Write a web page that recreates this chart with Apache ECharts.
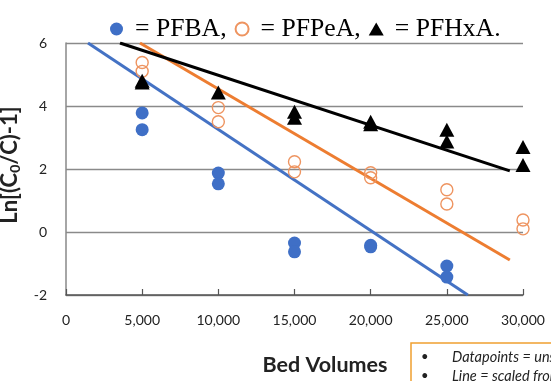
<!DOCTYPE html>
<html><head><meta charset="utf-8">
<script src="https://cdn.jsdelivr.net/npm/echarts@6/dist/echarts.min.js"></script>
<style>html,body{margin:0;padding:0;background:#fff}#c{width:551px;height:381px}</style>
</head><body><div id="c"></div>
<script>
// Data
const xTicks = [0, 5000, 10000, 15000, 20000, 25000, 30000];
const yTicks = [-2, 0, 2, 4, 6];
const pfbaX = [5000, 5000, 10000, 10000, 15000, 15000, 20000, 20000, 25000, 25000];
const pfbaY = [3.78, 3.25, 1.87, 1.53, -0.35, -0.63, -0.42, -0.47, -1.08, -1.43];
const pfpeaX = [5000, 5000, 10000, 10000, 15000, 15000, 20000, 20000, 25000, 25000, 30000, 30000];
const pfpeaY = [5.38, 5.10, 3.95, 3.50, 2.23, 1.91, 1.88, 1.72, 1.34, 0.89, 0.38, 0.10];
const pfhxaX = [5000, 5000, 10000, 15000, 15000, 20000, 20000, 25000, 25000, 30000, 30000];
const pfhxaY = [4.75, 4.80, 4.43, 3.82, 3.63, 3.50, 3.42, 3.25, 2.87, 2.70, 2.13];
// fitted (scaled) lines: start/end points
const pfbaLineX = [1444, 26378];
const pfbaLineY = [6.0, -2.0];
const pfpeaLineX = [4856, 29134];
const pfpeaLineY = [6.0, -0.89];
const pfhxaLineX = [3543, 29134];
const pfhxaLineY = [6.0, 1.94];

const zip = (xs, ys) => xs.map((x, i) => [x, ys[i]]);
const BLUE = '#4472C4', DOT = '#3F6FC6', ORANGE = '#ED7D31', ORANGE_LT = '#EE9460';
const FONT = 'Lato';

const chart = echarts.init(document.getElementById('c'));
chart.setOption({
  animation: false,
  backgroundColor: '#fff',
  legend: {
    data: ['PFBA', 'PFPeA', 'PFHxA'],
    left: 105, top: 11,
    itemWidth: 15, itemHeight: 13, itemGap: 8,
    selectedMode: false,
    formatter: n => '= ' + n + (n === 'PFHxA' ? '.' : ','),
    textStyle: { fontFamily: 'Liberation Serif', fontSize: 25.7, color: '#000', padding: [0, 0, 0, 6] }
  },
  grid: { left: 66, right: 28, top: 43, bottom: 86, outerBoundsMode: 'none', containLabel: false },
  xAxis: {
    type: 'value', min: xTicks[0], max: xTicks[xTicks.length - 1], interval: 5000,
    axisLine: { show: true, onZero: false, lineStyle: { color: '#555', width: 1.5 } },
    axisTick: { show: true, inside: true, length: 6, lineStyle: { color: '#555', width: 1.2 } },
    axisLabel: { margin: 18, fontFamily: FONT, fontSize: 14, color: '#222',
      formatter: v => v.toLocaleString('en-US') },
    splitLine: { show: false },
    name: 'Bed Volumes', nameLocation: 'middle', nameGap: 59,
    nameTextStyle: { fontFamily: FONT, fontWeight: 'bold', fontSize: 21.5, color: '#222', padding: [0, 0, 0, 61] }
  },
  yAxis: {
    type: 'value', min: yTicks[0], max: yTicks[yTicks.length - 1], interval: 2,
    axisLine: { show: true, lineStyle: { color: '#888', width: 1.5 } },
    axisTick: { show: false },
    axisLabel: { margin: 19, fontFamily: FONT, fontSize: 14, color: '#222' },
    splitLine: { show: true, lineStyle: { color: '#8a8a8a', width: 1.3 } },
    name: 'Ln[(C{s|0}/C)-1]', nameLocation: 'middle', nameGap: 43, nameRotate: 90,
    nameTextStyle: { fontFamily: FONT, fontWeight: 'bold', fontSize: 22, color: '#222', padding: [0, 0, 0, 8],
      rich: { s: { fontFamily: FONT, fontWeight: 'bold', fontSize: 14, color: '#222', padding: [11, 0, 0, 0] } } }
  },
  series: [
    { name: 'PFPeA line', type: 'line', data: zip(pfpeaLineX, pfpeaLineY), symbol: 'none',
      lineStyle: { color: ORANGE, width: 3 }, z: 3 },
    { name: 'PFBA line', type: 'line', data: zip(pfbaLineX, pfbaLineY), symbol: 'none',
      lineStyle: { color: BLUE, width: 3 }, z: 3 },
    { name: 'PFHxA line', type: 'line', data: zip(pfhxaLineX, pfhxaLineY), symbol: 'none',
      lineStyle: { color: '#000', width: 3 }, z: 3 },
    { name: 'PFBA', type: 'scatter', data: zip(pfbaX, pfbaY), symbol: 'circle', symbolSize: 13,
      itemStyle: { color: DOT, opacity: 1 }, z: 4 },
    { name: 'PFPeA', type: 'scatter', data: zip(pfpeaX, pfpeaY), symbol: 'circle', symbolSize: 12,
      itemStyle: { color: 'rgba(255,255,255,0)', borderColor: ORANGE_LT, borderWidth: 1.4, opacity: 1 }, z: 4 },
    { name: 'PFHxA', type: 'scatter', data: zip(pfhxaX, pfhxaY), symbol: 'triangle', symbolSize: [15, 14],
      itemStyle: { color: '#000', opacity: 1 }, z: 4 }
  ],
  graphic: [
    { type: 'rect', shape: { x: 411, y: 343, width: 160, height: 60 },
      style: { fill: '#fff', stroke: '#F0A030', lineWidth: 1.5 }, z: 10 },
    { type: 'text', x: 421, y: 350, z: 11, style: { text: '•', font: '13px Lato', fill: '#222' } },
    { type: 'text', x: 452, y: 350, z: 11, style: { text: 'Datapoints = unscaled values', font: 'italic 14.5px Lato', fill: '#222' } },
    { type: 'text', x: 421, y: 369, z: 11, style: { text: '•', font: '13px Lato', fill: '#222' } },
    { type: 'text', x: 452, y: 369, z: 11, style: { text: 'Line = scaled from model', font: 'italic 14.5px Lato', fill: '#222' } }
  ]
});
</script></body></html>
